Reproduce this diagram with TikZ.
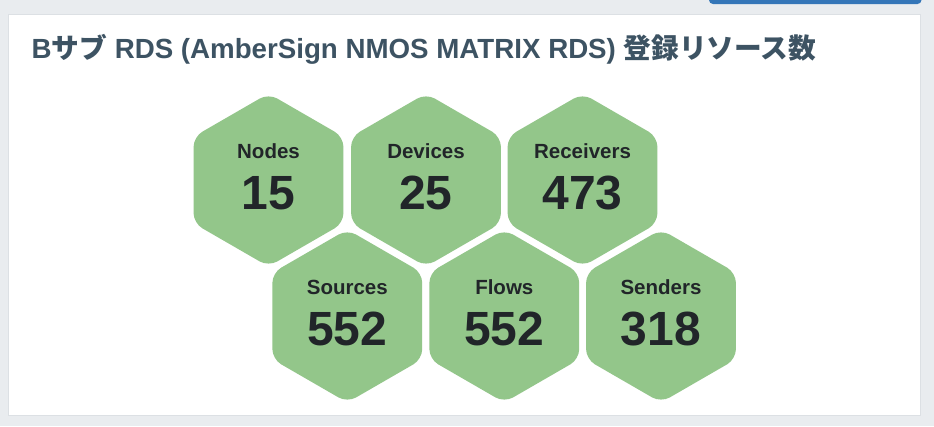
\documentclass[tikz,border=0pt]{standalone}
\usepackage{fontspec}
\setmainfont{Liberation Sans}
\newfontfamily\cjk{Noto Sans CJK JP}
\usetikzlibrary{shapes.geometric}
\definecolor{pagebg}{HTML}{E9ECEF}
\definecolor{cardline}{HTML}{DCE0E4}
\definecolor{btnblue}{HTML}{3476B8}
\definecolor{titlecol}{HTML}{3D5363}
\definecolor{hexgreen}{HTML}{93C68A}
\definecolor{textdark}{HTML}{212529}
\begin{document}
\begin{tikzpicture}[x=1pt,y=-1pt,
    hexcell/.style={regular polygon, regular polygon sides=6, shape border rotate=30,
      minimum size=173pt, inner sep=0pt, outer sep=0pt, fill=hexgreen, rounded corners=10pt},
    celllabel/.style={anchor=base, text=textdark, font=\bfseries\fontsize{20.5}{24}\selectfont},
    cellvalue/.style={anchor=base, text=textdark, font=\bfseries\fontsize{48}{56}\selectfont}]
  \useasboundingbox (0,0) rectangle (934,426);
  % Fundo e painel
  \fill[pagebg] (0,0) rectangle (934,426);
  \fill[btnblue, rounded corners=4pt] (709,-8) rectangle (921.5,4);
  \draw[cardline, fill=white] (8.5,14.5) rectangle (920.5,415.5);
  \node at (31.5,58.3) (title) [anchor=base west, inner sep=0pt, text=titlecol,
    font=\bfseries\fontsize{27.7}{32}\selectfont]
    {B{\cjk サブ} RDS (AmberSign NMOS MATRIX RDS) {\cjk 登録リソース数}};
  % Primeira linha de hexagonos
  \node at (268.5,180) (nodes) [hexcell] {};
  \node at (426,180) (devices) [hexcell] {};
  \node at (582.5,180) (receivers) [hexcell] {};
  % Segunda linha de hexagonos
  \node at (347.3,316) (sources) [hexcell] {};
  \node at (504.3,316) (flows) [hexcell] {};
  \node at (661,316) (senders) [hexcell] {};
  % Textos
  \node at ([yshift=21.7pt]nodes.center) (nodeslabel) [celllabel] {Nodes};
  \node at ([yshift=-29pt]nodes.center) (nodesvalue) [cellvalue] {15};
  \node at ([yshift=21.7pt]devices.center) (deviceslabel) [celllabel] {Devices};
  \node at ([yshift=-29pt]devices.center) (devicesvalue) [cellvalue] {25};
  \node at ([yshift=21.7pt]receivers.center) (receiverslabel) [celllabel] {Receivers};
  \node at ([yshift=-29pt]receivers.center) (receiversvalue) [cellvalue] {473};
  \node at ([yshift=21.7pt]sources.center) (sourceslabel) [celllabel] {Sources};
  \node at ([yshift=-29pt]sources.center) (sourcesvalue) [cellvalue] {552};
  \node at ([yshift=21.7pt]flows.center) (flowslabel) [celllabel] {Flows};
  \node at ([yshift=-29pt]flows.center) (flowsvalue) [cellvalue] {552};
  \node at ([yshift=21.7pt]senders.center) (senderslabel) [celllabel] {Senders};
  \node at ([yshift=-29pt]senders.center) (sendersvalue) [cellvalue] {318};
\end{tikzpicture}
\end{document}
